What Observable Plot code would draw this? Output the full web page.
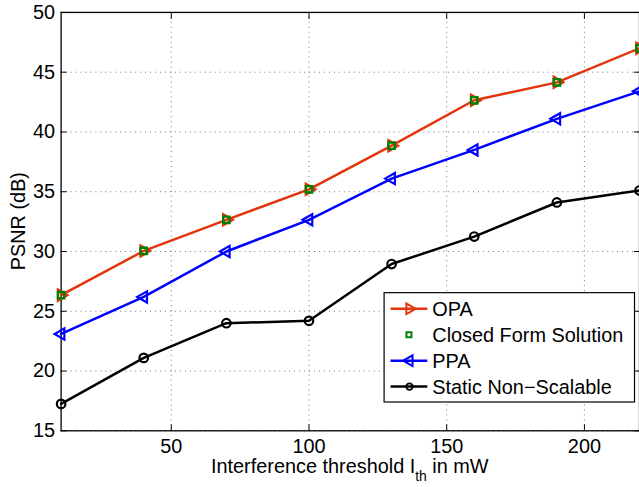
<!DOCTYPE html>
<html><head><meta charset="utf-8">
<script src="https://cdn.jsdelivr.net/npm/d3@7"></script>
<script src="https://cdn.jsdelivr.net/npm/@observablehq/plot@0.6"></script>
<style>
html,body{margin:0;padding:0;overflow:hidden;background:#fff;}
#wrap{position:relative;width:639px;height:487px;overflow:hidden;background:#fff;}
#wrap svg{position:absolute;left:0;top:0;}
</style></head>
<body><div id="wrap"></div>
<script>
const thresholds = [10, 40, 70, 100, 130, 160, 190, 220];
const opa        = [26.35, 30.05, 32.65, 35.2, 38.85, 42.65, 44.15, 47.0];
const closedForm = [26.35, 30.05, 32.65, 35.2, 38.85, 42.65, 44.15, 47.0];
const ppa        = [23.1, 26.2, 30.0, 32.65, 36.1, 38.5, 41.1, 43.4];
const staticNS   = [17.25, 21.1, 24.0, 24.2, 28.95, 31.25, 34.1, 35.1];
const xTicks = [50, 100, 150, 200];
const yTicks = [15, 20, 25, 30, 35, 40, 45, 50];
const seriesNames = ["OPA", "Closed Form Solution", "PPA", "Static Non\u2212Scalable"];
const xTitle = ["Interference threshold I", "th", " in mW"];
const yTitle = "PSNR (dB)";

const RED = "#e3340c", GREEN = "#008000", BLUE = "#0000ff", BLACK = "#000000";
const font = "'Liberation Sans', Arial, Helvetica, sans-serif";
const FS = 20;

const rows = (vals) => thresholds.map((x, i) => ({x, y: vals[i]}));
const dOPA = rows(opa), dCF = rows(closedForm), dPPA = rows(ppa), dST = rows(staticNS);

const W = 643, H = 487, ML = 61, MT = 12, MB = 54;
const grid = {stroke: "#555", strokeOpacity: 1, strokeWidth: 0.8, strokeDasharray: "1,4"};

const chart = Plot.plot({
  width: W, height: H,
  marginLeft: ML, marginRight: 0, marginTop: MT, marginBottom: MB,
  style: {fontFamily: font, fontSize: FS + "px", color: "#000", background: "#fff", overflow: "visible"},
  x: {domain: [10, 220], label: null},
  y: {domain: [15, 50], label: null},
  marks: [
    Plot.gridX(xTicks, grid),
    Plot.gridY(yTicks, grid),
    Plot.axisX(xTicks, {anchor: "bottom", tickSize: -6, tickPadding: 14, label: null, fontSize: FS}),
    Plot.axisX(xTicks, {anchor: "top", tickSize: -6, tickFormat: () => "", label: null}),
    Plot.axisY(yTicks, {anchor: "left", tickSize: -6, tickPadding: 12, label: null, fontSize: FS}),
    Plot.axisY(yTicks, {anchor: "right", tickSize: -6, tickFormat: () => "", label: null}),
    Plot.frame({stroke: "#000", strokeWidth: 1.3}),
    Plot.line(dST, {x: "x", y: "y", stroke: BLACK, strokeWidth: 2.5}),
    Plot.line(dPPA, {x: "x", y: "y", stroke: BLUE, strokeWidth: 2.5}),
    Plot.line(dOPA, {x: "x", y: "y", stroke: RED, strokeWidth: 2.5}),
    Plot.dot(dST, {x: "x", y: "y", symbol: "circle", r: 4.3, stroke: BLACK, strokeWidth: 2.2, fill: "none"}),
    Plot.dot(dPPA, {x: "x", y: "y", symbol: "triangle", rotate: -90, r: 4.2, stroke: BLUE, strokeWidth: 2.2, fill: "none"}),
    Plot.dot(dOPA, {x: "x", y: "y", symbol: "triangle", rotate: 90, r: 4.2, stroke: RED, strokeWidth: 2.2, fill: "none"}),
    Plot.dot(dCF, {x: "x", y: "y", symbol: "square", r: 3.6, stroke: GREEN, strokeWidth: 2.4, fill: "none"})
  ]
});
document.getElementById("wrap").appendChild(chart);

const svg = d3.select(chart);
// x title with subscript
const xt = svg.append("text")
  .attr("x", ML + (W - ML) / 2).attr("y", 476)
  .attr("text-anchor", "middle")
  .attr("font-family", font).attr("font-size", FS).attr("fill", "#000");
xt.append("tspan").text(xTitle[0]);
xt.append("tspan").attr("dy", 8).attr("font-size", 14).text(xTitle[1]);
xt.append("tspan").attr("dy", -8).text(xTitle[2]);
// y title
svg.append("text")
  .attr("transform", `translate(25,${MT + (H - MB - MT) / 2}) rotate(-90)`)
  .attr("text-anchor", "middle")
  .attr("font-family", font).attr("font-size", FS).attr("fill", "#000")
  .text(yTitle);

// legend box
const LX = 386, LY = 294, LW = 252, LH = 110;
const lg = svg.append("g").attr("transform", `translate(${LX},${LY})`);
lg.append("rect").attr("x", 0.5).attr("y", 0.5).attr("width", LW).attr("height", LH)
  .attr("fill", "#fff").attr("stroke", "#000").attr("stroke-width", 1.2);
const items = [
  {name: seriesNames[0], color: RED, line: true, sym: d3.symbolTriangle, rot: 90, size: Math.PI * 4 * 4, sw: 2},
  {name: seriesNames[1], color: GREEN, line: false, sym: d3.symbolSquare, rot: 0, size: 25, sw: 2},
  {name: seriesNames[2], color: BLUE, line: true, sym: d3.symbolTriangle, rot: -90, size: Math.PI * 4 * 4, sw: 2},
  {name: seriesNames[3], color: BLACK, line: true, sym: d3.symbolCircle, rot: 0, size: Math.PI * 3.3 * 3.3, sw: 1.8}
];
items.forEach((it, i) => {
  const cy = 16.7 + i * 26.1;
  const g = lg.append("g").attr("transform", `translate(0,${cy})`);
  if (it.line) g.append("line").attr("x1", 7).attr("x2", 44).attr("y1", 0).attr("y2", 0)
    .attr("stroke", it.color).attr("stroke-width", 2.5);
  g.append("path").attr("d", d3.symbol(it.sym, it.size)())
    .attr("transform", `translate(${i === 1 ? 25.5 : 26},0) rotate(${it.rot})`)
    .attr("fill", "none").attr("stroke", it.color).attr("stroke-width", it.sw);
  g.append("text").attr("x", 49).attr("y", 0).attr("dy", "0.35em")
    .attr("text-anchor", "start")
    .attr("font-family", font).attr("font-size", FS).attr("fill", "#000").text(it.name);
});
</script>
</body></html>
